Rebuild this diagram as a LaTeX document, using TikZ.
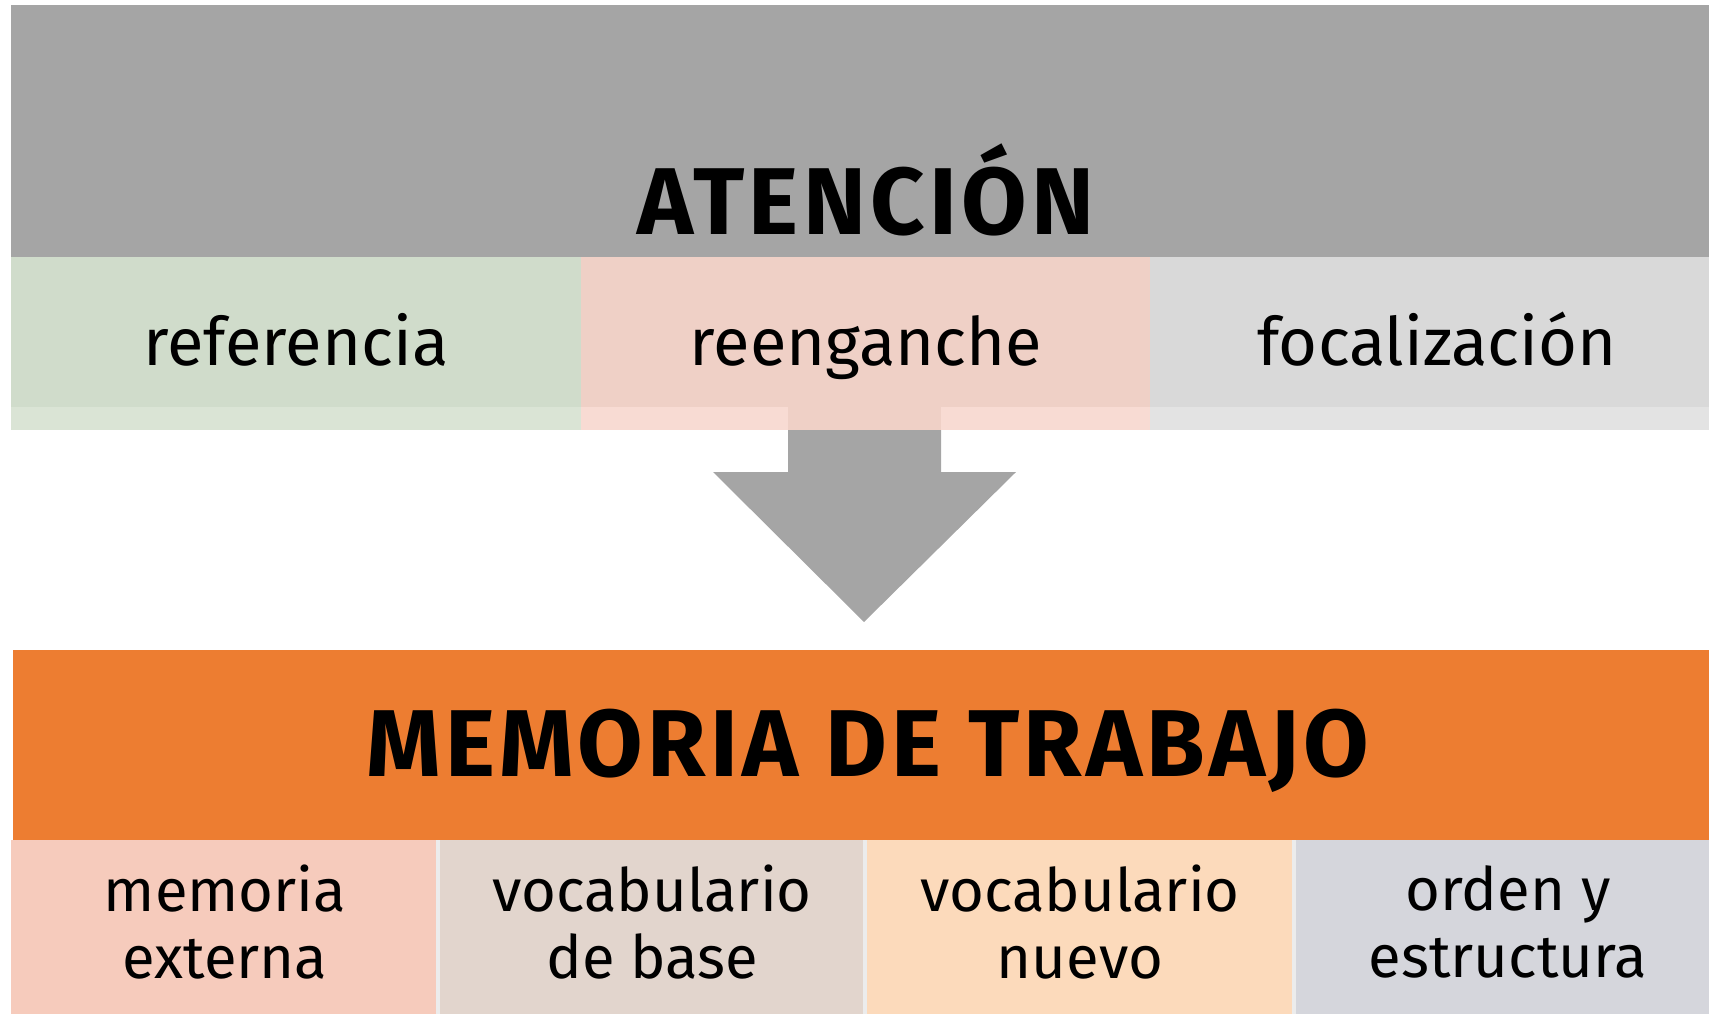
\documentclass[tikz,border=0pt]{standalone}
\usepackage{fontspec}
\setmainfont{Fira Sans}
\definecolor{bandgray}{HTML}{A5A5A5}
\definecolor{greenA}{HTML}{D0DCCB}
\definecolor{greenB}{HTML}{DAE4D5}
\definecolor{pinkA}{HTML}{EFD0C6}
\definecolor{pinkB}{HTML}{F8DBD3}
\definecolor{greyA}{HTML}{D9D9D9}
\definecolor{greyB}{HTML}{E3E3E3}
\definecolor{orangeband}{HTML}{ED7D31}
\definecolor{botA}{HTML}{F6CBBC}
\definecolor{botB}{HTML}{E2D5CD}
\definecolor{botC}{HTML}{FCDABB}
\definecolor{botD}{HTML}{D5D6DC}
\tikzset{
  title/.style={font=\fontsize{27}{30}\selectfont\bfseries\addfontfeatures{LetterSpace=4.5}, text=black, inner sep=0pt, anchor=base},
  toplabel/.style={font=\fontsize{19}{24}\selectfont, text=black, inner sep=0pt, anchor=base},
  botlabel/.style={font=\fontsize{17}{19}\selectfont, text=black, align=center, inner sep=0pt},
}
\begin{document}
\begin{tikzpicture}[x=0.01cm,y=-0.01cm]
\useasboundingbox (0,0) rectangle (1709,1015);
% top gray band
\fill[bandgray] (11,5) rectangle (1709,257);
% top row
\fill[greenA] (11,257) rectangle (581,407);
\fill[greenB] (11,407) rectangle (581,430);
\fill[pinkA] (581,257) rectangle (1150,407);
\fill[pinkB] (581,407) rectangle (1150,430);
\fill[pinkA] (788,407) rectangle (941,430);
\fill[greyA] (1150,257) rectangle (1709,407);
\fill[greyB] (1150,407) rectangle (1709,430);
% arrow
\fill[bandgray] (788,430) -- (941,430) -- (941,472) -- (1016,472) -- (864,622) -- (713,472) -- (788,472) -- cycle;
% orange band
\fill[orangeband] (13,650) rectangle (1709,840);
% bottom row
\fill[botA] (11,840) rectangle (438,1014);
\fill[botB] (438,840) rectangle (865,1014);
\fill[botC] (865,840) rectangle (1294,1014);
\fill[botD] (1294,840) rectangle (1709,1014);
\draw[white!85!gray, line width=1pt] (438,840) -- (438,1014) (865,840) -- (865,1014) (1294,840) -- (1294,1014);
% texts
\node[title] (aten) at (866,234) {ATENCIÓN};
\node[title] (mem) at (868,776) {MEMORIA DE TRABAJO};
\node[toplabel] (ref) at (296,365) {referencia};
\node[toplabel] (reen) at (866,365) {reenganche};
\node[toplabel] (foc) at (1437,365) {focalización};
\node[botlabel] (b1) at (225,922) {memoria\\externa};
\node[botlabel] (b2) at (652,922) {vocabulario\\de base};
\node[botlabel] (b3) at (1080,922) {vocabulario\\nuevo};
\node[botlabel] (b4) at (1508,922) {orden y\\estructura};
\end{tikzpicture}
\end{document}
